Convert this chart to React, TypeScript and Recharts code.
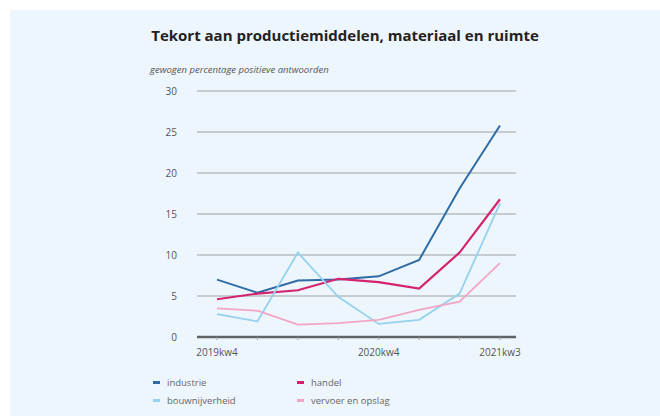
import React from "react";
import { LineChart, Line, XAxis, YAxis, CartesianGrid } from "recharts";

const quarters = ["2019kw4", "2020kw1", "2020kw2", "2020kw3", "2020kw4", "2021kw1", "2021kw2", "2021kw3"];
const shownLabels = ["2019kw4", "2020kw4", "2021kw3"];
const industrie = [7.0, 5.4, 6.9, 7.0, 7.4, 9.4, 18.1, 25.8];
const handel = [4.6, 5.3, 5.7, 7.1, 6.7, 5.9, 10.3, 16.8];
const bouwnijverheid = [2.8, 1.9, 10.3, 4.9, 1.6, 2.1, 5.3, 16.3];
const vervoer = [3.5, 3.2, 1.5, 1.7, 2.1, 3.3, 4.3, 9.0];
const yTicks = [0, 5, 10, 15, 20, 25, 30];

const data = quarters.map((q, i) => ({
  q,
  industrie: industrie[i],
  handel: handel[i],
  bouwnijverheid: bouwnijverheid[i],
  vervoer: vervoer[i],
}));

const series = [
  { key: "industrie", name: "industrie", color: "#2f6ca6", width: 2 },
  { key: "handel", name: "handel", color: "#d4236f", width: 2.2 },
  { key: "bouwnijverheid", name: "bouwnijverheid", color: "#94d2ee", width: 1.8 },
  { key: "vervoer", name: "vervoer en opslag", color: "#f3a5c5", width: 1.8 },
];

const font = "'Open Sans', 'Noto Sans', sans-serif";

if (typeof document !== "undefined") document.body.style.margin = "0";

function LegendBox() {
  return (
    <div style={{ display: "grid", gridTemplateColumns: "144px 160px", rowGap: 4, fontFamily: font, fontSize: 9.5, color: "#666" }}>
      {series.map((s) => (
        <div key={s.key} style={{ display: "flex", alignItems: "center", height: 14 }}>
          <span style={{ display: "inline-block", width: 7, height: 3, background: s.color, marginRight: 7 }} />
          <span>{s.name}</span>
        </div>
      ))}
    </div>
  );
}

export default function App() {
  return (
    <div style={{ position: "relative", width: 660, height: 416, background: "#fff", overflow: "hidden" }}>
      <div style={{ position: "absolute", left: 10, top: 10, right: 0, bottom: 0, background: "#eef6fd" }} />
      <div style={{ position: "absolute", left: 0, top: 25, width: 690, textAlign: "center", fontFamily: font, fontWeight: 700, fontSize: 15, color: "#222" }}>
        Tekort aan productiemiddelen, materiaal en ruimte
      </div>
      <div style={{ position: "absolute", left: 150, top: 63, fontFamily: font, fontStyle: "italic", fontSize: 9.5, color: "#555" }}>
        gewogen percentage positieve antwoorden
      </div>
      <div style={{ position: "absolute", left: 0, top: 0 }}>
        <LineChart width={660} height={416} data={data} margin={{ top: 91, right: 144, bottom: 49, left: 150 }}>
          <CartesianGrid vertical={false} stroke="#b9bdc1" strokeWidth={1.5} />
          <XAxis
            dataKey="q"
            padding={{ left: 20, right: 16 }}
            axisLine={{ stroke: "#5f6366", strokeWidth: 2.5 }}
            tickLine={{ stroke: "#a0a4a8" }}
            tickSize={3}
            tickMargin={9}
            interval={0}
            tick={{ fontSize: 10, fill: "#555", fontFamily: font }}
            tickFormatter={(v: string) => (shownLabels.includes(v) ? v : "")}
          />
          <YAxis
            width={47}
            domain={[0, 30]}
            ticks={yTicks}
            axisLine={false}
            tickLine={false}
            tickMargin={14}
            tick={{ fontSize: 10, fill: "#555", fontFamily: font }}
          />
          {series.map((s) => (
            <Line
              key={s.key}
              dataKey={s.key}
              name={s.name}
              stroke={s.color}
              strokeWidth={s.width}
              dot={false}
              activeDot={false}
              type="linear"
              isAnimationActive={false}
            />
          ))}
        </LineChart>
      </div>
      <div style={{ position: "absolute", left: 153, top: 375 }}>
        <LegendBox />
      </div>
    </div>
  );
}
